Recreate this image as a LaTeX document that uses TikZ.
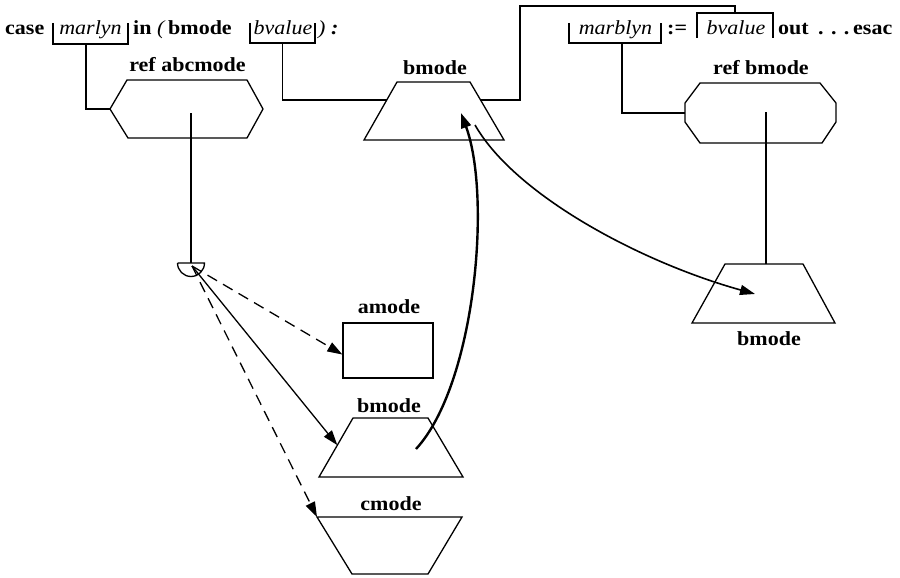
\documentclass[tikz,border=0pt]{standalone}
\usepackage{fontspec}
\setmainfont{Liberation Serif}[FakeStretch=1.1]
\usetikzlibrary{arrows.meta,calc}
\begin{document}
\begin{tikzpicture}[x=1pt,y=-1pt,
  txt/.style={inner sep=0pt, anchor=base, font=\fontsize{20}{22}\selectfont},
  lbl/.style={txt, font=\fontsize{20}{22}\selectfont\bfseries},
  ln/.style={line width=1.3pt, line join=miter},
  box/.style={inner sep=0pt, outer sep=0pt, draw=none},
  tip/.style={-{Triangle[length=15pt,width=10pt]}},
  dsh/.style={dash pattern=on 11pt off 7pt}
]
\useasboundingbox (0,0) rectangle (900,578);

% ---------- top text line ----------
\node[lbl, anchor=base west] (tcase) at (5,35) {case};
\node[txt] (tmarlyn) at (90.5,35) {\itshape marlyn};
\node[lbl, anchor=base west] (tin) at (133,35) {in};
\node[txt, anchor=base west] (tparen) at (157,35) {\itshape (};
\node[lbl, anchor=base west] (tbm) at (168,35) {bmode};
\node[txt] (tbv1) at (283,35) {\itshape bvalue};
\node[txt, anchor=base west] (tclose) at (318,35) {\itshape )\ \bfseries :};
\node[txt] (tmarb) at (615.5,35) {\itshape marblyn};
\node[lbl, anchor=base west] (tassign) at (667,35) {:=};
\node[txt] (tbv2) at (736,35) {\itshape bvalue};
\node[lbl, anchor=base west] (tout) at (778,35) {out};
\node[lbl, anchor=base west] (tdots) at (818,35) {. . .};
\node[lbl, anchor=base west] (tesac) at (853,35) {esac};

% ---------- brackets ----------
\node[box, minimum width=75pt, minimum height=21pt] (mlb) at (90.5,33.5) {};
\draw[ln] (mlb.north west) -- (mlb.south west) -- (mlb.south east) -- (mlb.north east);
\node[box, minimum width=65pt, minimum height=20pt] (bv1) at (282.5,33) {};
\draw[ln] (bv1.north west) -- (bv1.south west) -- (bv1.south east) -- (bv1.north east);
\node[box, minimum width=92pt, minimum height=20pt] (mbl) at (615,33) {};
\draw[ln] (mbl.north west) -- (mbl.south west) -- (mbl.south east) -- (mbl.north east);
\node[box, minimum width=76pt, minimum height=25pt] (bv2) at (735,25.5) {};
\draw[ln] (bv2.south west) -- (bv2.north west) -- (bv2.north east) -- (bv2.south east);

% ---------- shapes ----------
% hexagon ref abcmode
\node[box, minimum width=153pt, minimum height=58pt] (hexA) at (186.5,109) {};
\draw[ln] (hexA.west) -- ($(hexA.north west)+(17,0)$) -- ($(hexA.north east)+(-16,0)$)
  -- (hexA.east) -- ($(hexA.south east)+(-16,0)$) -- ($(hexA.south west)+(18,0)$) -- cycle;
\node[lbl] at (187.5,72) {ref abcmode};

% octagon ref bmode
\node[box, minimum width=151pt, minimum height=60pt] (refB) at (760.5,113) {};
\draw[ln] ($(refB.north west)+(15,0)$) -- ($(refB.north east)+(-16,0)$) -- ($(refB.north east)+(0,20)$)
  -- ($(refB.south east)+(0,-21)$) -- ($(refB.south east)+(-14,0)$) -- ($(refB.south west)+(15,0)$)
  -- ($(refB.south west)+(0,-21)$) -- ($(refB.north west)+(0,20)$) -- cycle;
\node[lbl] at (761,75) {ref bmode};

% upper bmode trapezium
\node[box, minimum width=140pt, minimum height=58pt] (B1) at (434,111) {};
\draw[ln] ($(B1.north west)+(33,0)$) -- ($(B1.north east)+(-34,0)$) -- (B1.south east) -- (B1.south west) -- cycle;
\node[lbl] at (435,75) {bmode};

% right bmode trapezium
\node[box, minimum width=143pt, minimum height=59pt] (B3) at (763.5,293.5) {};
\draw[ln] ($(B3.north west)+(33,0)$) -- ($(B3.north east)+(-32,0)$) -- (B3.south east) -- (B3.south west) -- cycle;
\node[lbl] at (769,345) {bmode};

% amode rectangle
\node[draw, ln, minimum width=90pt, minimum height=55pt, inner sep=0pt] (amode) at (388,350.5) {};
\node[lbl] at (389,313) {amode};

% lower bmode trapezium
\node[box, minimum width=144pt, minimum height=59pt] (B2) at (391,447.5) {};
\draw[ln] ($(B2.north west)+(34,0)$) -- ($(B2.north east)+(-35,0)$) -- (B2.south east) -- (B2.south west) -- cycle;
\node[lbl] at (389,412) {bmode};

% cmode inverted trapezium
\node[box, minimum width=145pt, minimum height=57pt] (C) at (389.5,545.5) {};
\draw[ln] (C.north west) -- (C.north east) -- ($(C.south east)+(-34,0)$) -- ($(C.south west)+(35,0)$) -- cycle;
\node[lbl] at (391,510) {cmode};

% selector half disc
\coordinate (sc) at (191,263);
\draw[ln] (177.5,263) -- (204.5,263) arc[start angle=0, end angle=180, radius=13.5];
\coordinate (src) at (192,266);

% ---------- connectors ----------
\draw[ln] ($(mlb.south west)+(33,0)$) |- (hexA.west);
\coordinate (B1l) at ($(B1.south west)!0.69!($(B1.north west)+(33,0)$)$);
\coordinate (B1r) at ($(B1.south east)!0.69!($(B1.north east)+(-34,0)$)$);
\draw[ln] (bv1.south) |- (B1l);
\draw[ln] (B1r) -- ++(39.5,0) |- ($(bv2.north)+(0,-7)$) -- (bv2.north);
\draw[ln] ($(mbl.south)+(7,0)$) |- (refB.west);
\draw[ln] ($(hexA.center)+(4.5,4)$) -- (sc);
\draw[ln] ($(refB.center)+(5.5,-1)$) -- ($(B3.north)+(2.5,0)$);

\coordinate (B2l) at ($(B2.south west)!0.54!($(B2.north west)+(34,0)$)$);
\draw[ln, dsh, tip] (src) -- ($(amode.west)+(0,4)$);
\draw[ln, tip] (src) -- (B2l);
\draw[ln, dsh, tip] (src) -- (C.north west);

\coordinate (B2in) at (416,449);
\coordinate (B1in) at (461,113);
\draw[line width=2.4pt, tip] (B2in) .. controls (475,385) and (492,197) .. (B1in);
\coordinate (B1out) at (475,125);
\coordinate (B3in) at (755,294);
\draw[line width=1.6pt, tip] (B1out) .. controls (515,195) and (640,262) .. (B3in);
\end{tikzpicture}
\end{document}
